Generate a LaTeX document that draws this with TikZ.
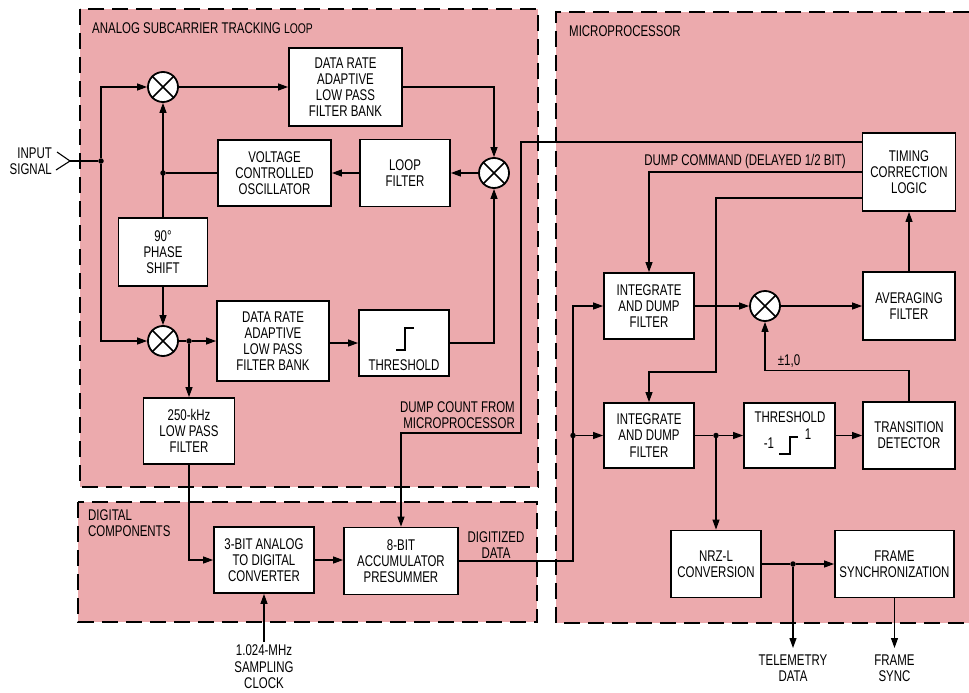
\documentclass[tikz,border=0pt]{standalone}
\usepackage{fontspec}
\setmainfont[FakeStretch=0.74]{Liberation Sans}
\usetikzlibrary{arrows.meta}
\definecolor{pinkbg}{RGB}{236,170,173}
\newcommand\mixcross[1]{\draw[line width=1.5pt] (#1.north west) -- (#1.south east) (#1.north east) -- (#1.south west);}
\begin{document}
\begin{tikzpicture}[x=1pt,y=-1pt,
  font=\fontsize{15.5}{16.2}\selectfont,
  blk/.style={draw, line width=1.8pt, fill=white, align=center, inner sep=0pt},
  mix/.style={draw, circle, line width=1.8pt, fill=white, minimum size=30pt, inner sep=0pt},
  ln/.style={line width=1.1pt},
  arr/.style={ln, -{Triangle[length=10pt,width=7pt]}},
  dot/.style={circle, fill, inner sep=0pt, minimum size=5.5pt},
  dashb/.style={line width=2pt, dash pattern=on 16pt off 8pt},
  lbl/.style={align=center, inner sep=0pt}]
\useasboundingbox (0,0) rectangle (969,693);
\fill[white] (0,0) rectangle (969,693);
% regions
\fill[pinkbg] (80,9) rectangle (538,487);
\draw[dashb] (80,9) rectangle (538,487);
\fill[pinkbg] (78,502) rectangle (537,622);
\draw[dashb] (78,502) rectangle (537,622);
\fill[pinkbg] (556,12) rectangle (969,623);
\draw[dashb] (969,12) -- (556,12) -- (556,623) -- (969,623);
% titles
\node[lbl, anchor=west] (t1) at (92,28) {ANALOG SUBCARRIER TRACKING {\fontsize{14}{15}\selectfont LOOP}};
\node[lbl, anchor=west] (t2) at (569,31) {MICROPROCESSOR};
\node[lbl, anchor=west, align=left] (t3) at (88,523) {DIGITAL\\COMPONENTS};
% analog nodes
\node[mix] (mix1) at (163,87) {};
\node[blk, minimum width=113pt, minimum height=78pt] (dr1) at (345.5,87) {DATA RATE\\ADAPTIVE\\LOW PASS\\FILTER BANK};
\node[blk, minimum width=113pt, minimum height=66pt] (vco) at (274.5,173) {VOLTAGE\\CONTROLLED\\OSCILLATOR};
\node[blk, minimum width=90pt, minimum height=67pt] (loopf) at (405,173) {LOOP\\FILTER};
\node[mix] (mix2) at (494,173) {};
\node[blk, minimum width=89pt, minimum height=68pt] (phase) at (163,252) {90°\\PHASE\\SHIFT};
\node[mix] (mix3) at (163,341) {};
\node[blk, minimum width=112pt, minimum height=80pt] (dr2) at (273,341) {DATA RATE\\ADAPTIVE\\LOW PASS\\FILTER BANK};
\node[blk, minimum width=90pt, minimum height=66pt] (thr) at (404,343) {};
\node[lbl] (thrlbl) at (404,365) {THRESHOLD};
\draw[line width=1.3pt] (396,350) -- (405,350) -- (405,328) -- (414,328);
\node[blk, minimum width=91pt, minimum height=66pt] (lpf) at (189,431) {250-kHz\\LOW PASS\\FILTER};
\node[blk, minimum width=100pt, minimum height=66pt] (adc) at (264,560) {3-BIT ANALOG\\TO DIGITAL\\CONVERTER};
\node[blk, minimum width=114pt, minimum height=67pt] (acc) at (401,561) {8-BIT\\ACCUMULATOR\\PRESUMMER};
\foreach \m in {mix1,mix2,mix3} {\mixcross{\m}}
% input
\node[lbl, anchor=east, align=right] (inlbl) at (52,161) {INPUT\\SIGNAL};
\coordinate (inp) at (70,161);
\draw[ln] (57,152) -- (inp) -- (56,170);
\node[dot] (j1) at (101,161) {};
\draw[ln] (inp) -- (j1);
\draw[arr] (j1) |- (mix1.west);
\draw[arr] (j1) |- (mix3.west);
\draw[arr] (mix1.east) -- (dr1.west);
\draw[arr] (dr1.east) -| (mix2.north);
\draw[arr] (mix2.west) -- (loopf.east);
\draw[arr] (loopf.west) -- (vco.east);
\node[dot] (j2) at (163,173) {};
\draw[ln] (vco.west) -- (j2);
\draw[arr] (phase.north) -- (mix1.south);
\draw[arr] (phase.south) -- (mix3.north);
\node[dot] (j3) at (189,341) {};
\draw[ln] (mix3.east) -- (j3);
\draw[arr] (j3) -- (dr2.west);
\draw[arr] (j3) -- (lpf.north);
\draw[arr] (dr2.east |- thr.west) -- (thr.west);
\draw[arr] (thr.east) -| (mix2.south);
\draw[arr] (lpf.south) |- (adc.west);
\draw[arr] (adc.east) -- (adc.east -| acc.west);
\coordinate (clk) at (264,642);
\draw[arr] (clk) -- (adc.south);
\node[lbl, font=\fontsize{15.5}{16.5}\selectfont] (clklbl) at (264,667) {1.024-MHz\\SAMPLING\\CLOCK};
\node[lbl, anchor=east, align=right] (dclbl) at (515,415) {DUMP COUNT FROM\\MICROPROCESSOR};
\node[lbl] (ddlbl) at (496,545) {DIGITIZED\\DATA};
% micro nodes
\node[blk, minimum width=93pt, minimum height=78pt] (timing) at (909,172) {TIMING\\CORRECTION\\LOGIC};
\node[blk, minimum width=92pt, minimum height=68pt] (avg) at (909,306) {AVERAGING\\FILTER};
\node[blk, minimum width=90pt, minimum height=66pt] (int1) at (649,306) {INTEGRATE\\AND DUMP\\FILTER};
\node[mix] (mix4) at (765,306) {};
\mixcross{mix4}
\node[blk, minimum width=90pt, minimum height=65pt] (int2) at (649,435.5) {INTEGRATE\\AND DUMP\\FILTER};
\node[blk, minimum width=91pt, minimum height=65pt] (thr2) at (789.5,435.5) {};
\node[lbl] (thr2lbl) at (790,417) {THRESHOLD};
\node[lbl] (m1) at (769,443) {-1};
\node[lbl] (p1) at (808,434) {1};
\draw[line width=1.3pt] (779,454) -- (790,454) -- (790,437) -- (798,437);
\node[blk, minimum width=92pt, minimum height=67pt] (trans) at (909,435.5) {TRANSITION\\DETECTOR};
\node[blk, minimum width=90pt, minimum height=67pt] (nrz) at (716,564) {NRZ-L\\CONVERSION};
\node[blk, minimum width=119pt, minimum height=67pt] (fsync) at (894.5,564) {FRAME\\SYNCHRONIZATION};
% micro connectors
\coordinate (d142) at (0,142);
\coordinate (d198) at (0,198);
\coordinate (c521) at (521,433);
\coordinate (c716) at (716,372);
\draw[arr] (timing.west |- d142) -| (c521) -| (acc.north);
\draw[arr] (timing.west) -| (int1.north);
\node[lbl] (dcmd) at (745,161) {DUMP COMMAND (DELAYED 1/2 BIT)};
\draw[arr] (timing.west |- d198) -| (c716) -| (int2.north);
\node[dot] (j4) at (573,435.5) {};
\draw[arr] (acc.east) -| (j4) |- (int1.west);
\draw[arr] (j4) -- (int2.west);
\draw[arr] (int1.east) -- (mix4.west);
\draw[arr] (mix4.east) -- (avg.west);
\draw[arr] (avg.north) -- (timing.south);
\draw[arr] (trans.north) -- ++(0,-31) -| (mix4.south);
\node[lbl] (pm) at (789,361) {±1,0};
\node[dot] (j5) at (716,435.5) {};
\draw[ln] (int2.east) -- (j5);
\draw[arr] (j5) -- (thr2.west);
\draw[arr] (j5) -- (nrz.north);
\draw[arr] (thr2.east) -- (trans.west);
\node[dot] (j6) at (793,564) {};
\draw[ln] (nrz.east) -- (j6);
\draw[arr] (j6) -- (fsync.west);
\coordinate (tel) at (793,648);
\draw[arr] (j6) -- (tel);
\node[lbl] (tellbl) at (793,668) {TELEMETRY\\DATA};
\coordinate (fs) at (894.5,648);
\draw[arr] (fsync.south) -- (fs);
\node[lbl] (fslbl) at (894.5,668) {FRAME\\SYNC};
\end{tikzpicture}
\end{document}
